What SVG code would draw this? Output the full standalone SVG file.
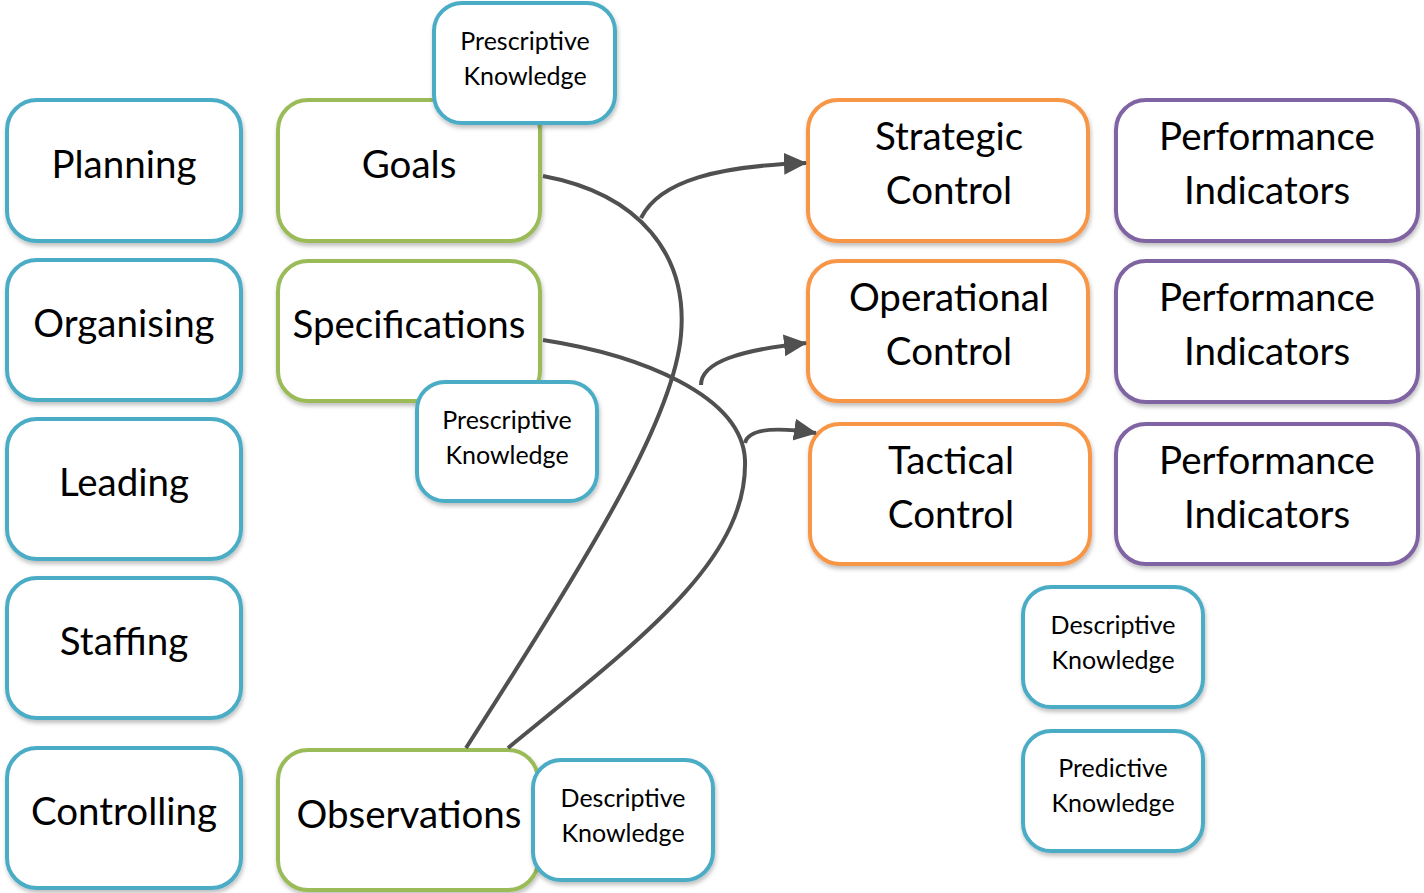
<svg xmlns="http://www.w3.org/2000/svg" width="1424" height="893" viewBox="0 0 1424 893">
<style>
.box{fill:#fff;stroke-width:4;filter:url(#sh)}
.blue{stroke:#4BACC6}.green{stroke:#9BBB59}.orange{stroke:#F79646}.purple{stroke:#8064A2}
.big{font-family:Lato,"Open Sans",sans-serif;font-size:38.5px;fill:#000;text-anchor:middle}
.small{font-family:Lato,"Open Sans",sans-serif;font-size:25px;fill:#000;text-anchor:middle}
.conn{fill:none;stroke:#505050;stroke-width:4}
</style>
<defs>
<filter id="sh" x="-10%" y="-10%" width="130%" height="130%">
<feDropShadow dx="1" dy="3" stdDeviation="2" flood-color="#000" flood-opacity="0.25"/>
</filter>
<marker id="arr" markerUnits="userSpaceOnUse" markerWidth="24" markerHeight="24" viewBox="0 0 24 24" refX="22" refY="12" orient="auto">
<path d="M0,1 L23,12 L0,23 Z" fill="#505050"/>
</marker>
</defs>

<g id="planning"><rect class="box blue" x="7" y="100" width="234" height="141" rx="30"/><text class="big" x="124" y="178">Planning</text></g>
<g id="organising"><rect class="box blue" x="7" y="260" width="234" height="140" rx="30"/><text class="big" x="124" y="337">Organising</text></g>
<g id="leading"><rect class="box blue" x="7" y="419" width="234" height="140" rx="30"/><text class="big" x="124" y="496">Leading</text></g>
<g id="staffing"><rect class="box blue" x="7" y="578" width="234" height="140" rx="30"/><text class="big" x="124" y="655">Staffing</text></g>
<g id="controlling"><rect class="box blue" x="7" y="748" width="234" height="140" rx="30"/><text class="big" x="124" y="825">Controlling</text></g>

<g id="goals"><rect class="box green" x="278" y="100" width="262" height="141" rx="30"/><text class="big" x="409" y="178">Goals</text></g>
<g id="specifications"><rect class="box green" x="278" y="261" width="262" height="140" rx="30"/><text class="big" x="409" y="338">Specifications</text></g>
<g id="observations"><rect class="box green" x="278" y="750" width="260" height="140" rx="30"/><text class="big" x="409" y="828">Observations</text></g>

<g id="prescriptive1"><rect class="box blue" x="434" y="3" width="181" height="120" rx="28"/><text class="small" x="525" y="50">Prescriptive</text><text class="small" x="525" y="85">Knowledge</text></g>
<g id="prescriptive2"><rect class="box blue" x="417" y="382" width="180" height="119" rx="28"/><text class="small" x="507" y="429">Prescriptive</text><text class="small" x="507" y="464">Knowledge</text></g>
<g id="descriptive1"><rect class="box blue" x="533" y="760" width="180" height="120" rx="28"/><text class="small" x="623" y="807">Descriptive</text><text class="small" x="623" y="842">Knowledge</text></g>

<g id="strategic"><rect class="box orange" x="808" y="100" width="280" height="141" rx="30"/><text class="big" x="949" y="150">Strategic</text><text class="big" x="949" y="204">Control</text></g>
<g id="operational"><rect class="box orange" x="808" y="261" width="280" height="140" rx="30"/><text class="big" x="949" y="311">Operational</text><text class="big" x="949" y="365">Control</text></g>
<g id="tactical"><rect class="box orange" x="810" y="424" width="280" height="140" rx="30"/><text class="big" x="951" y="474">Tactical</text><text class="big" x="951" y="528">Control</text></g>

<g id="pi1"><rect class="box purple" x="1116" y="100" width="302" height="141" rx="30"/><text class="big" x="1267" y="150">Performance</text><text class="big" x="1267" y="204">Indicators</text></g>
<g id="pi2"><rect class="box purple" x="1116" y="261" width="302" height="141" rx="30"/><text class="big" x="1267" y="311">Performance</text><text class="big" x="1267" y="365">Indicators</text></g>
<g id="pi3"><rect class="box purple" x="1116" y="424" width="302" height="140" rx="30"/><text class="big" x="1267" y="474">Performance</text><text class="big" x="1267" y="528">Indicators</text></g>

<g id="descriptive2"><rect class="box blue" x="1023" y="587" width="180" height="120" rx="28"/><text class="small" x="1113" y="634">Descriptive</text><text class="small" x="1113" y="669">Knowledge</text></g>
<g id="predictive"><rect class="box blue" x="1023" y="731" width="180" height="120" rx="28"/><text class="small" x="1113" y="777">Predictive</text><text class="small" x="1113" y="812">Knowledge</text></g>

<g id="connectors">
<path class="conn" d="M543,176 C640,194 688,255 681,335 C674,415 600,540 466,748"/>
<path class="conn" d="M641,218 C660,180 720,166 806,163" marker-end="url(#arr)"/>
<path class="conn" d="M543,340 C640,355 742,395 745,460 C748,560 640,640 508,748"/>
<path class="conn" d="M701,385 C701,362 740,350 806,343" marker-end="url(#arr)"/>
<path class="conn" d="M745,443 C748,430 770,426 816,433" marker-end="url(#arr)"/>
</g>
</svg>
